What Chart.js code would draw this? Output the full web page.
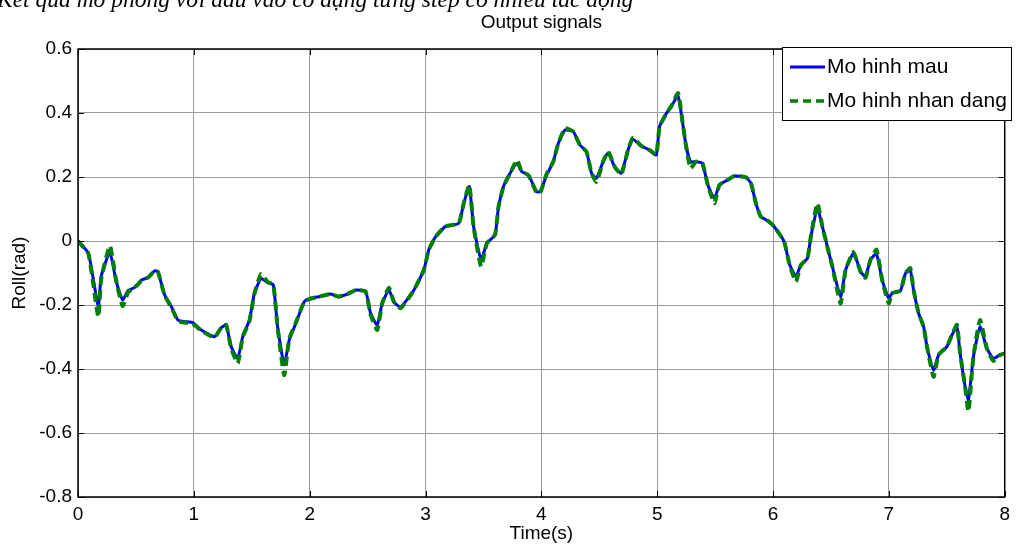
<!DOCTYPE html>
<html>
<head>
<meta charset="utf-8">
<script src="https://cdn.jsdelivr.net/npm/chart.js@4.4.1/dist/chart.umd.min.js"></script>
<style>
  html, body { margin: 0; padding: 0; background: #fff; }
  #wrap { width: 1016px; height: 546px; position: relative; }
</style>
</head>
<body>
<div id="wrap"><canvas id="c"></canvas></div>
<script>
// ---- data ----
const times = [0.00,0.09,0.175,0.20,0.275,0.33,0.385,0.433,0.49,0.548,0.605,0.662,0.69,0.748,0.806,0.863,0.92,0.99,1.064,1.178,1.236,1.279,1.322,1.379,1.422,1.48,1.523,1.58,1.637,1.686,1.723,1.78,1.824,1.881,1.953,2.01,2.08,2.18,2.25,2.325,2.40,2.483,2.526,2.583,2.626,2.684,2.727,2.785,2.90,2.985,3.028,3.086,3.17,3.286,3.33,3.378,3.415,3.48,3.53,3.60,3.63,3.673,3.73,3.79,3.83,3.888,3.96,3.99,4.046,4.103,4.146,4.204,4.275,4.333,4.39,4.433,4.476,4.533,4.576,4.633,4.69,4.748,4.79,4.863,4.935,4.992,5.02,5.08,5.12,5.18,5.22,5.25,5.288,5.336,5.39,5.437,5.494,5.537,5.609,5.666,5.766,5.81,5.852,5.895,5.967,6.01,6.096,6.14,6.197,6.24,6.297,6.326,6.383,6.426,6.469,6.512,6.583,6.626,6.692,6.727,6.755,6.798,6.841,6.893,6.942,6.999,7.028,7.10,7.143,7.185,7.213,7.257,7.30,7.329,7.386,7.429,7.501,7.544,7.587,7.615,7.658,7.687,7.73,7.787,7.845,7.902,7.96,8.00];
const moHinhMau = [0.000,-0.038,-0.205,-0.110,-0.035,-0.127,-0.184,-0.155,-0.145,-0.122,-0.114,-0.093,-0.096,-0.169,-0.205,-0.247,-0.252,-0.255,-0.278,-0.299,-0.271,-0.263,-0.330,-0.367,-0.299,-0.247,-0.163,-0.117,-0.130,-0.137,-0.268,-0.387,-0.309,-0.257,-0.190,-0.179,-0.174,-0.166,-0.174,-0.166,-0.153,-0.158,-0.226,-0.263,-0.195,-0.153,-0.190,-0.207,-0.153,-0.091,-0.028,0.013,0.045,0.055,0.118,0.170,0.045,-0.059,-0.007,0.019,0.107,0.170,0.212,0.243,0.217,0.206,0.154,0.154,0.206,0.248,0.305,0.347,0.342,0.300,0.279,0.212,0.196,0.248,0.276,0.232,0.212,0.284,0.318,0.297,0.284,0.269,0.357,0.399,0.420,0.453,0.368,0.295,0.248,0.248,0.243,0.175,0.133,0.175,0.191,0.203,0.199,0.180,0.118,0.076,0.060,0.045,-0.002,-0.070,-0.111,-0.075,-0.054,0.013,0.102,0.045,-0.018,-0.080,-0.174,-0.091,-0.039,-0.065,-0.096,-0.111,-0.059,-0.039,-0.122,-0.179,-0.163,-0.155,-0.101,-0.091,-0.153,-0.226,-0.268,-0.330,-0.403,-0.356,-0.330,-0.294,-0.268,-0.351,-0.455,-0.497,-0.361,-0.268,-0.335,-0.367,-0.356,-0.351];
const moHinhNhanDang = [0.000,-0.040,-0.237,-0.120,-0.015,-0.125,-0.203,-0.160,-0.145,-0.125,-0.114,-0.093,-0.096,-0.170,-0.207,-0.250,-0.255,-0.258,-0.280,-0.302,-0.271,-0.262,-0.335,-0.382,-0.300,-0.250,-0.165,-0.103,-0.128,-0.137,-0.270,-0.419,-0.305,-0.255,-0.190,-0.180,-0.174,-0.166,-0.174,-0.166,-0.153,-0.158,-0.230,-0.278,-0.195,-0.146,-0.190,-0.210,-0.153,-0.091,-0.028,0.013,0.045,0.055,0.118,0.175,0.045,-0.080,-0.007,0.019,0.107,0.170,0.212,0.253,0.217,0.206,0.150,0.150,0.210,0.248,0.305,0.352,0.342,0.300,0.279,0.212,0.185,0.248,0.280,0.232,0.208,0.284,0.322,0.297,0.284,0.269,0.357,0.399,0.420,0.462,0.368,0.295,0.227,0.248,0.243,0.175,0.118,0.175,0.191,0.203,0.199,0.180,0.118,0.076,0.060,0.045,-0.002,-0.070,-0.127,-0.075,-0.054,0.013,0.118,0.045,-0.018,-0.080,-0.195,-0.091,-0.035,-0.065,-0.096,-0.115,-0.059,-0.027,-0.122,-0.195,-0.163,-0.155,-0.101,-0.085,-0.153,-0.226,-0.268,-0.330,-0.424,-0.356,-0.330,-0.294,-0.262,-0.351,-0.455,-0.533,-0.361,-0.247,-0.335,-0.375,-0.356,-0.351];
const seriesNames = ['Mo hinh mau', 'Mo hinh nhan dang'];
const xTickLabels = ['0','1','2','3','4','5','6','7','8'];
const yTickLabels = ['-0.8','-0.6','-0.4','-0.2','0','0.2','0.4','0.6'];
const chartTitle = 'Output signals';
const xTitle = 'Time(s)';
const yTitle = 'Roll(rad)';
const caption = 'Kết quả mô phỏng với đầu vào có dạng từng step có nhiều tác động';

const FONT = '"Liberation Sans", Arial, Helvetica, sans-serif';
const BLUE = 'rgb(0,0,255)';
const GREEN = 'rgb(0,128,0)';

const decorPlugin = {
  id: 'decor',
  afterDatasetsDraw(chart) {
    const ctx = chart.ctx;
    const a = chart.chartArea;
    const xs = chart.scales.x, ys = chart.scales.y;
    ctx.save();
    ctx.strokeStyle = '#000';
    ctx.lineWidth = 1.5;
    ctx.strokeRect(a.left, a.top, a.right - a.left, a.bottom - a.top);
    ctx.lineWidth = 1;
    ctx.beginPath();
    xs.ticks.forEach(t => {
      const px = Math.round(xs.getPixelForValue(t.value)) + 0.5;
      ctx.moveTo(px, a.bottom); ctx.lineTo(px, a.bottom - 6);
      ctx.moveTo(px, a.top); ctx.lineTo(px, a.top + 6);
    });
    ys.ticks.forEach(t => {
      const py = Math.round(ys.getPixelForValue(t.value)) + 0.5;
      ctx.moveTo(a.left, py); ctx.lineTo(a.left + 6, py);
      ctx.moveTo(a.right, py); ctx.lineTo(a.right - 6, py);
    });
    ctx.stroke();
    ctx.restore();
  },
  afterDraw(chart) {
    const ctx = chart.ctx;
    const a = chart.chartArea;
    ctx.save();
    ctx.fillStyle = '#000';
    ctx.font = 'italic 23.5px "Liberation Serif", "Times New Roman", serif';
    ctx.textAlign = 'left';
    ctx.textBaseline = 'alphabetic';
    ctx.fillText(caption, -3, 7);
    ctx.font = '19px ' + FONT;
    ctx.textAlign = 'center';
    ctx.textBaseline = 'middle';
    ctx.fillText(chartTitle, (a.left + a.right) / 2, 23);
    ctx.fillText(xTitle, (a.left + a.right) / 2, 534);
    ctx.save();
    ctx.translate(20, (a.top + a.bottom) / 2);
    ctx.rotate(-Math.PI / 2);
    ctx.fillText(yTitle, 0, 0);
    ctx.restore();
    const lx = 782, ly = 47, lw = 229, lh = 73;
    ctx.fillStyle = '#fff';
    ctx.fillRect(lx, ly, lw, lh);
    ctx.strokeStyle = '#000';
    ctx.lineWidth = 1;
    ctx.strokeRect(lx + 0.5, ly + 0.5, lw, lh);
    const rows = [
      { name: seriesNames[0], color: BLUE, dash: [], w: 3, y: 67 },
      { name: seriesNames[1], color: GREEN, dash: [8, 5], w: 3.5, y: 101 }
    ];
    ctx.font = '21px ' + FONT;
    ctx.textAlign = 'left';
    ctx.textBaseline = 'middle';
    rows.forEach(r => {
      ctx.beginPath();
      ctx.strokeStyle = r.color;
      ctx.lineWidth = r.w;
      ctx.setLineDash(r.dash);
      ctx.moveTo(790, r.y); ctx.lineTo(825, r.y);
      ctx.stroke();
      ctx.setLineDash([]);
      ctx.fillStyle = '#000';
      ctx.fillText(r.name, 827, r.y);
    });
    ctx.restore();
  }
};

new Chart(document.getElementById('c'), {
  type: 'line',
  data: {
    datasets: [
      {
        label: seriesNames[0],
        data: times.map((t, i) => ({ x: t, y: moHinhMau[i] })),
        borderColor: BLUE,
        borderWidth: 3,
        borderJoinStyle: 'round',
        pointRadius: 0,
        tension: 0.15,
        fill: false,
        order: 2
      },
      {
        label: seriesNames[1],
        data: times.map((t, i) => ({ x: t, y: moHinhNhanDang[i] })),
        borderColor: GREEN,
        borderWidth: 4,
        borderDash: [9, 5],
        borderJoinStyle: 'round',
        pointRadius: 0,
        tension: 0.15,
        fill: false,
        order: 1
      }
    ]
  },
  options: {
    responsive: true,
    maintainAspectRatio: false,
    animation: false,
    devicePixelRatio: 1,
    layout: { padding: { top: 49, right: 8, left: 0, bottom: 0 } },
    plugins: { legend: { display: false }, title: { display: false }, tooltip: { enabled: false } },
    scales: {
      x: {
        type: 'linear',
        min: 0, max: 8,
        afterFit(s) { s.height = 49; },
        border: { display: false },
        grid: { color: '#9a9a9a', lineWidth: 1, drawTicks: false },
        ticks: {
          stepSize: 1,
          padding: 6,
          color: '#000',
          font: { family: FONT, size: 19 },
          maxRotation: 0,
          callback: (v, i) => xTickLabels[i]
        }
      },
      y: {
        type: 'linear',
        min: -0.8, max: 0.6,
        afterFit(s) { s.width = 78; },
        border: { display: false },
        grid: { color: '#9a9a9a', lineWidth: 1, drawTicks: false },
        ticks: {
          stepSize: 0.2,
          padding: 6,
          color: '#000',
          font: { family: FONT, size: 19 },
          callback: (v, i) => yTickLabels[i]
        }
      }
    }
  },
  plugins: [decorPlugin]
});
</script>
</body>
</html>
